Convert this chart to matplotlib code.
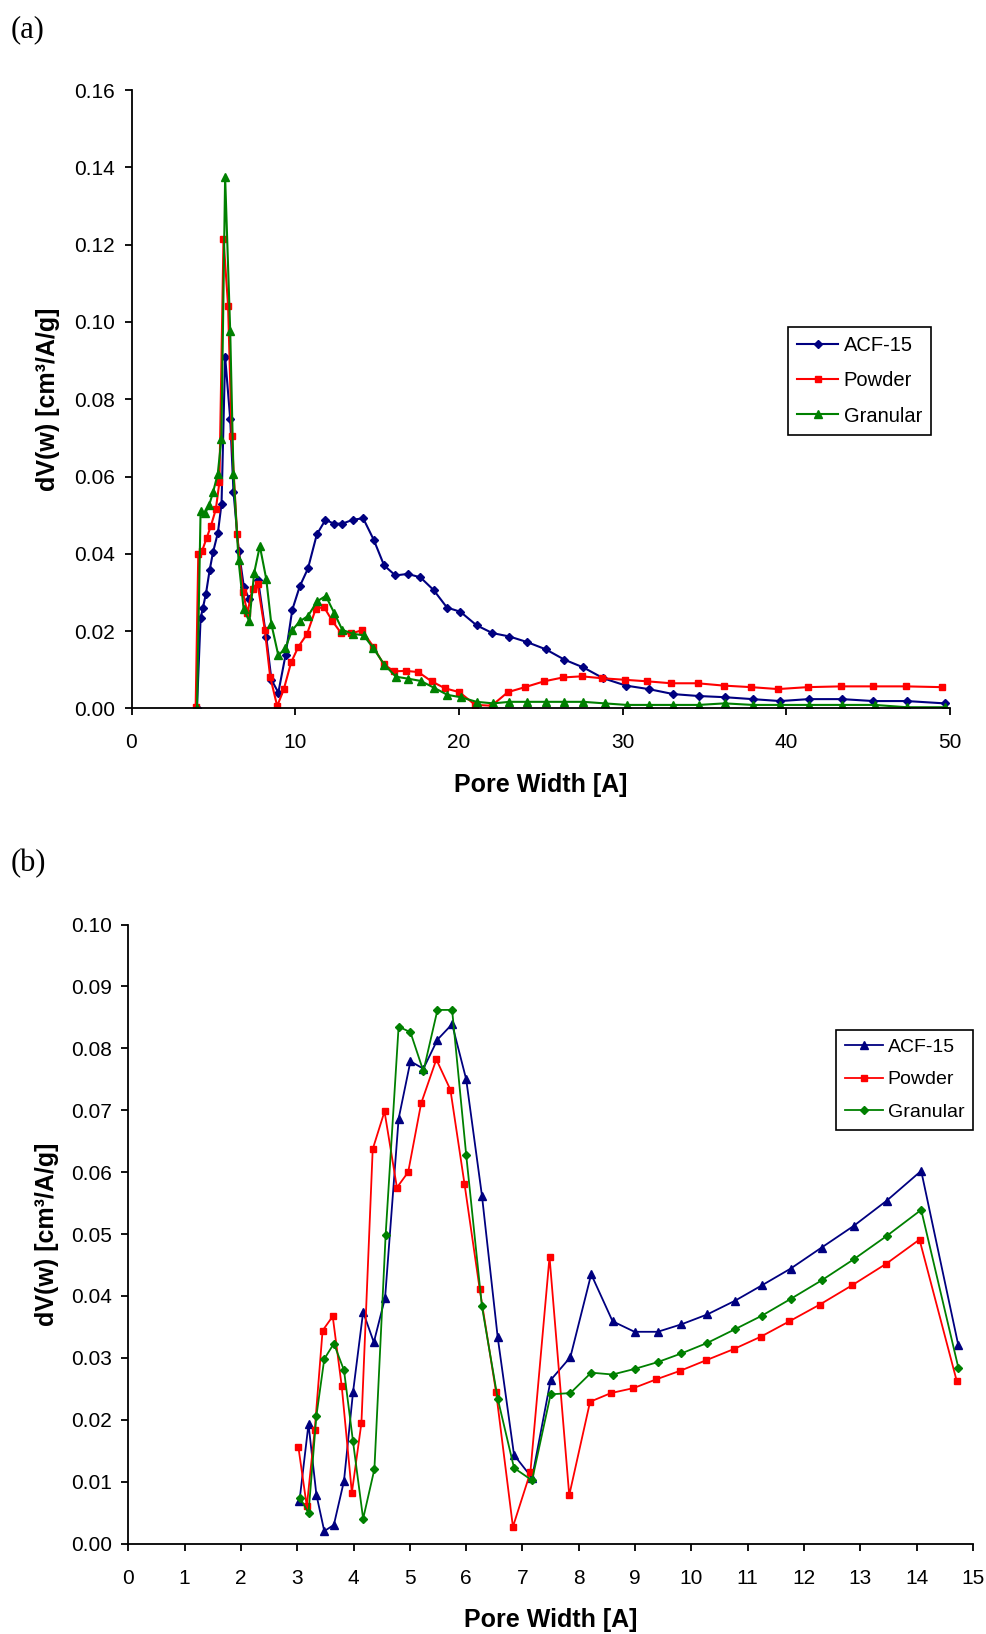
import numpy as np
import matplotlib
matplotlib.use("Agg")
import matplotlib.pyplot as plt
from matplotlib.ticker import MultipleLocator, FormatStrFormatter


# ---------------------------------------------
# (a) 0-50 A の細孔分布
# ---------------------------------------------
acf_a_x = [4.0, 4.22, 4.36, 4.55, 4.77, 4.98, 5.28, 5.5, 5.72, 6.03,
           6.23, 6.55, 6.87, 7.2, 7.73, 8.23, 8.55, 8.97, 9.41, 9.82,
           10.28, 10.78, 11.32, 11.85, 12.36, 12.88, 13.52, 14.15, 14.8, 15.43,
           16.12, 16.88, 17.65, 18.46, 19.27, 20.09, 21.08, 22.04, 23.09, 24.14,
           25.3, 26.45, 27.6, 28.82, 30.2, 31.59, 33.1, 34.65, 36.23, 37.94,
           39.62, 41.37, 43.41, 45.32, 47.36, 49.67]
acf_a_y = [0.0002, 0.0233, 0.026, 0.0297, 0.0357, 0.0404, 0.0455, 0.053, 0.091, 0.0749,
           0.0561, 0.0408, 0.0313, 0.0282, 0.0333, 0.0185, 0.0074, 0.0041, 0.0138, 0.0255,
           0.0316, 0.0362, 0.045, 0.0488, 0.0478, 0.0478, 0.0488, 0.0492, 0.0436, 0.037,
           0.0344, 0.0348, 0.0339, 0.0306, 0.0261, 0.025, 0.0215, 0.0195, 0.0186, 0.0172,
           0.0153, 0.0126, 0.0106, 0.0078, 0.0059, 0.005, 0.0037, 0.0032, 0.0029, 0.0024,
           0.0019, 0.0024, 0.0024, 0.0019, 0.0019, 0.0013]

powder_a_x = [3.92, 4.08, 4.3, 4.6, 4.85, 5.15, 5.37, 5.62, 5.9, 6.12,
              6.45, 6.8, 7.08, 7.4, 7.7, 8.15, 8.47, 8.9, 9.3, 9.75,
              10.2, 10.72, 11.25, 11.75, 12.27, 12.82, 13.42, 14.07, 14.77, 15.4,
              16.05, 16.78, 17.52, 18.33, 19.15, 20.03, 21.0, 22.0, 22.99, 24.04,
              25.2, 26.35, 27.5, 28.75, 30.14, 31.52, 32.97, 34.58, 36.17, 37.85,
              39.49, 41.3, 43.35, 45.32, 47.3, 49.5]
powder_a_y = [0.0004, 0.0399, 0.0406, 0.0442, 0.0472, 0.0515, 0.0585, 0.1214, 0.1042, 0.0706,
              0.045, 0.0302, 0.0248, 0.031, 0.0323, 0.0202, 0.0082, 0.0006, 0.0049, 0.0119,
              0.016, 0.0192, 0.0257, 0.0263, 0.0226, 0.0194, 0.0194, 0.0202, 0.016, 0.0114,
              0.0096, 0.0097, 0.0094, 0.007, 0.0052, 0.0042, 0.0009, 0.0007, 0.0042, 0.0055,
              0.007, 0.008, 0.0083, 0.0078, 0.0074, 0.007, 0.0065, 0.0065, 0.0059, 0.0055,
              0.005, 0.0055, 0.0057, 0.0057, 0.0057, 0.0055]

granular_a_x = [4.0, 4.22, 4.5, 4.75, 4.98, 5.27, 5.49, 5.72, 6.03, 6.23,
                6.54, 6.85, 7.2, 7.49, 7.84, 8.23, 8.54, 8.97, 9.4, 9.81,
                10.27, 10.78, 11.34, 11.87, 12.37, 12.88, 13.54, 14.18, 14.77, 15.45,
                16.15, 16.89, 17.67, 18.5, 19.3, 20.1, 21.08, 22.1, 23.09, 24.14,
                25.3, 26.45, 27.6, 28.9, 30.24, 31.6, 33.1, 34.65, 36.23, 37.94,
                39.62, 41.37, 43.41, 45.4, 47.36, 49.67]
granular_a_y = [0.0, 0.051, 0.0505, 0.0527, 0.0559, 0.0607, 0.0697, 0.1375, 0.0976, 0.0606,
                0.0383, 0.0257, 0.0225, 0.035, 0.042, 0.0335, 0.0219, 0.0137, 0.0156, 0.0202,
                0.0225, 0.0239, 0.0277, 0.0291, 0.0248, 0.0203, 0.0193, 0.0189, 0.0156, 0.0113,
                0.0082, 0.0077, 0.0071, 0.0053, 0.0035, 0.0029, 0.0017, 0.0013, 0.0017, 0.0017,
                0.0017, 0.0017, 0.0017, 0.0013, 0.0009, 0.0009, 0.0009, 0.0009, 0.0013, 0.0009,
                0.0009, 0.0009, 0.0009, 0.0009, 0.0003, 0.0003]

# ---------------------------------------------
# (b) 3-15 A の拡大
# ---------------------------------------------
acf_b_x = [3.04, 3.2, 3.34, 3.48, 3.65, 3.83, 3.99, 4.17, 4.36, 4.56,
           4.8, 5.01, 5.24, 5.49, 5.75, 6.0, 6.28, 6.56, 6.85, 7.17,
           7.5, 7.85, 8.22, 8.6, 8.99, 9.4, 9.82, 10.28, 10.77, 11.25,
           11.76, 12.31, 12.88, 13.47, 14.08, 14.74]
acf_b_y = [0.0069, 0.0193, 0.0079, 0.002, 0.003, 0.0101, 0.0244, 0.0374, 0.0325, 0.0397,
           0.0686, 0.0779, 0.0767, 0.0814, 0.0839, 0.075, 0.0562, 0.0333, 0.0143, 0.0106,
           0.0264, 0.0301, 0.0435, 0.0359, 0.0342, 0.0342, 0.0354, 0.037, 0.0392, 0.0417,
           0.0444, 0.0478, 0.0513, 0.0554, 0.0602, 0.032]

powder_b_x = [3.02, 3.17, 3.31, 3.45, 3.63, 3.79, 3.97, 4.14, 4.34, 4.55,
              4.77, 4.97, 5.2, 5.47, 5.72, 5.97, 6.24, 6.53, 6.83, 7.14,
              7.48, 7.83, 8.2, 8.57, 8.97, 9.37, 9.8, 10.26, 10.75, 11.23,
              11.74, 12.28, 12.85, 13.46, 14.05, 14.71]
powder_b_y = [0.0156, 0.006, 0.0183, 0.0344, 0.0367, 0.0254, 0.0082, 0.0195, 0.0637, 0.0698,
              0.0575, 0.06, 0.0711, 0.0782, 0.0733, 0.0581, 0.0411, 0.0245, 0.0027, 0.0115,
              0.0463, 0.0078, 0.0229, 0.0243, 0.0251, 0.0265, 0.0279, 0.0296, 0.0314, 0.0334,
              0.0359, 0.0386, 0.0417, 0.0452, 0.0491, 0.0263]

granular_b_x = [3.05, 3.2, 3.34, 3.48, 3.65, 3.83, 3.99, 4.17, 4.37, 4.57,
                4.8, 5.01, 5.24, 5.49, 5.75, 6.0, 6.28, 6.56, 6.85, 7.17,
                7.5, 7.85, 8.22, 8.6, 8.99, 9.4, 9.82, 10.28, 10.77, 11.25,
                11.76, 12.31, 12.88, 13.47, 14.08, 14.74]
granular_b_y = [0.0074, 0.0049, 0.0206, 0.0298, 0.0323, 0.028, 0.0165, 0.004, 0.012, 0.0499,
                0.0835, 0.0826, 0.0763, 0.0862, 0.0862, 0.0628, 0.0383, 0.0234, 0.0122, 0.0102,
                0.0241, 0.0243, 0.0276, 0.0273, 0.0282, 0.0293, 0.0307, 0.0324, 0.0346, 0.0368,
                0.0395, 0.0425, 0.0459, 0.0497, 0.0539, 0.0284]

LABELS = ["ACF-15", "Powder", "Granular"]
NAVY = "#000080"
RED = "#FF0000"
GREEN = "#008000"

plt.rcParams["font.family"] = ["Liberation Sans", "DejaVu Sans"]

W, H = 986, 1634
fig = plt.figure(figsize=(W / 100, H / 100), dpi=100)


def px_axes(left, top, right, bottom):
    # ピクセル位置から axes を作る
    return fig.add_axes([left / W, 1 - bottom / H, (right - left) / W, (bottom - top) / H])


def style_axes(ax):
    for side in ("top", "right"):
        ax.spines[side].set_visible(False)
    for side in ("left", "bottom"):
        ax.spines[side].set_linewidth(1.3)
    ax.tick_params(axis="both", direction="out", length=5, width=1.3,
                   labelsize=15, colors="black")
    ax.tick_params(axis="y", pad=7)
    ax.tick_params(axis="x", pad=13)
    ax.yaxis.set_major_formatter(FormatStrFormatter("%.2f"))


def add_legend(ax, anchor, size, spacing, hlen, hpad):
    leg = ax.legend(loc="upper right", bbox_to_anchor=anchor, borderaxespad=0,
                    fontsize=size, frameon=True, fancybox=False, edgecolor="black",
                    framealpha=1, handlelength=hlen, handletextpad=hpad,
                    labelspacing=spacing, borderpad=0.45)
    leg.get_frame().set_linewidth(1.2)


# =====================
# (a)
# =====================
ax1 = px_axes(131.5, 90, 950, 708.4)
ax1.plot(acf_a_x, acf_a_y, color=NAVY, lw=1.5, marker="D", ms=4.2, label=LABELS[0])
ax1.plot(powder_a_x, powder_a_y, color=RED, lw=1.5, marker="s", ms=4.6, label=LABELS[1])
ax1.plot(granular_a_x, granular_a_y, color=GREEN, lw=1.5, marker="^", ms=5.6, label=LABELS[2])
ax1.set_xlim(0, 50)
ax1.set_ylim(0, 0.16)
ax1.xaxis.set_major_locator(MultipleLocator(10))
ax1.yaxis.set_major_locator(MultipleLocator(0.02))
style_axes(ax1)
ax1.set_xlabel("Pore Width [A]", fontsize=18, fontweight="bold", labelpad=15)
ax1.set_ylabel("dV(w) [cm³/A/g]", fontsize=18, fontweight="bold")
ax1.yaxis.set_label_coords(-0.087, 0.5)
add_legend(ax1, (0.977, 0.617), 14.5, 0.81, 2.0, 0.3)

# =====================
# (b)
# =====================
ax2 = px_axes(128.3, 924.5, 973, 1543.5)
ax2.plot(acf_b_x, acf_b_y, color=NAVY, lw=1.3, marker="^", ms=5.2, label=LABELS[0])
ax2.plot(powder_b_x, powder_b_y, color=RED, lw=1.3, marker="s", ms=4.3, label=LABELS[1])
ax2.plot(granular_b_x, granular_b_y, color=GREEN, lw=1.3, marker="D", ms=3.6, label=LABELS[2])
ax2.set_xlim(0, 15)
ax2.set_ylim(0, 0.10)
ax2.xaxis.set_major_locator(MultipleLocator(1))
ax2.yaxis.set_major_locator(MultipleLocator(0.01))
style_axes(ax2)
ax2.set_xlabel("Pore Width [A]", fontsize=18, fontweight="bold", labelpad=15)
ax2.set_ylabel("dV(w) [cm³/A/g]", fontsize=18, fontweight="bold")
ax2.yaxis.set_label_coords(-0.082, 0.5)
add_legend(ax2, (1.0, 0.83), 14, 0.76, 1.95, 0.26)

# パネル記号
fig.text(11 / W, 1 - 30 / H, "(a)", family=["Liberation Serif", "DejaVu Serif"],
         fontsize=22, va="center", ha="left")
fig.text(11 / W, 1 - 864 / H, "(b)", family=["Liberation Serif", "DejaVu Serif"],
         fontsize=22, va="center", ha="left")

fig.savefig("out.png", dpi=100)
